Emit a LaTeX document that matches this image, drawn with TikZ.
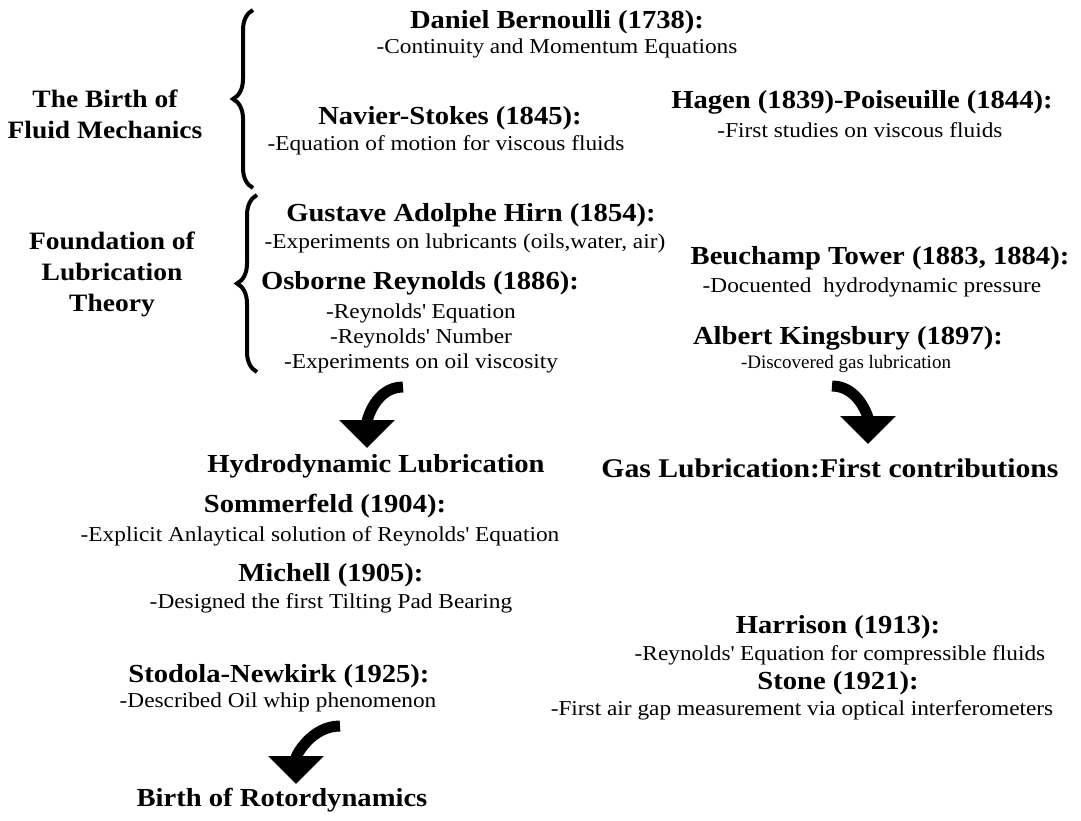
\documentclass[tikz,border=0pt]{standalone}
\usepackage{fontspec}
\setmainfont{Liberation Serif}[FakeStretch=1.1]
\newfontfamily\plainserif{Liberation Serif}
\usetikzlibrary{arrows.meta,decorations.pathreplacing}

\newcommand\headfont{\bfseries\fontsize{26}{31}\selectfont}
\newcommand\notefont{\fontsize{21.2}{25}\selectfont}
\newcommand\sidefont{\bfseries\fontsize{25}{31}\selectfont}

\tikzset{
  head/.style={font=\headfont, inner sep=0pt},
  note/.style={font=\notefont, inner sep=0pt, align=center},
  side/.style={font=\sidefont, inner sep=0pt, align=center},
  bendarrow/.style={line width=11pt, -{Triangle[width=54pt,length=28pt]}},
  bigbrace/.style={decorate, decoration={brace, amplitude=20pt}, line width=4pt}
}

\begin{document}
\begin{tikzpicture}[x=1pt,y=1pt]
\useasboundingbox (0,0) rectangle (1081,-821);
\fill[white] (0,0) rectangle (1081,-821);
%\draw[help lines,step=50] (0,0) grid (1081,-821);
\node[side] (birth) at (105,-114) {The Birth of\\Fluid Mechanics};
\node[side] (found) at (112,-274) {Foundation of\\Lubrication\\Theory};
\draw[bigbrace] (253,-188) -- (253,-10);
\draw[bigbrace] (257,-372) -- (257,-195);
% headings
\foreach \nm/\px/\py/\txt in {bern/557/22/{Daniel Bernoulli (1738):}, navier/450/118/{Navier-Stokes (1845):},
  hagen/862/102/{Hagen (1839)-Poiseuille (1844):}, hirn/471/215/{Gustave Adolphe Hirn (1854):},
  reyn/420/283/{Osborne Reynolds (1886):}, beu/880/258/{Beuchamp Tower (1883, 1884):},
  king/848/338/{Albert Kingsbury (1897):}, hydro/376/466/{Hydrodynamic Lubrication},
  somm/325/506/{Sommerfeld (1904):},
  mich/331/575/{Michell (1905):}, harr/838/627/{Harrison (1913):}, stone/838/683/{Stone (1921):},
  stod/279/676/{Stodola-Newkirk (1925):}, rotor/282/800/{Birth of Rotordynamics}}
  \node[head] (\nm) at (\px,-\py) {\txt};
\node[head,font=\bfseries\fontsize{27}{32}\selectfont] (gas) at (830,-468) {Gas Lubrication:First contributions};
% notes
\foreach \nm/\px/\py/\txt in {bernb/557/48/{-Continuity and Momentum Equations},
  navierb/446/145/{-Equation of motion for viscous fluids}, hagenb/860/130/{-First studies on viscous fluids},
  hirnb/465/243/{-Experiments on lubricants (oils,water, air)},
  reynb/421/338/{-Reynolds\textquotesingle\ Equation\\-Reynolds\textquotesingle\ Number\\-Experiments on oil viscosity},
  beub/872/287/{-Docuented\ \ hydrodynamic pressure},
  sommb/320/536/{-Explicit Anlaytical solution of Reynolds\textquotesingle\ Equation},
  michb/331/603/{-Designed the first Tilting Pad Bearing},
  harrb/840/655/{-Reynolds\textquotesingle\ Equation for compressible fluids},
  stoneb/802/710/{-First air gap measurement via optical interferometers},
  stodb/278/702/{-Described Oil whip phenomenon}}
  \node[note] (\nm) at (\px,-\py) {\txt};
\node[note,font=\plainserif\fontsize{19}{23}\selectfont] (kingb) at (846,-364) {-Discovered gas lubrication};
% bent arrows
\coordinate (a1s) at (403,-387);
\coordinate (a1e) at (367,-448);
\coordinate (a2s) at (832,-386);
\coordinate (a2e) at (868,-444);
\coordinate (a3s) at (340,-726);
\coordinate (a3e) at (296,-784);
\draw[bendarrow] (a1s) to[out=180,in=90] (a1e);
\draw[bendarrow] (a2s) to[out=0,in=90] (a2e);
\draw[bendarrow] (a3s) to[out=180,in=90] (a3e);
\end{tikzpicture}
\end{document}
